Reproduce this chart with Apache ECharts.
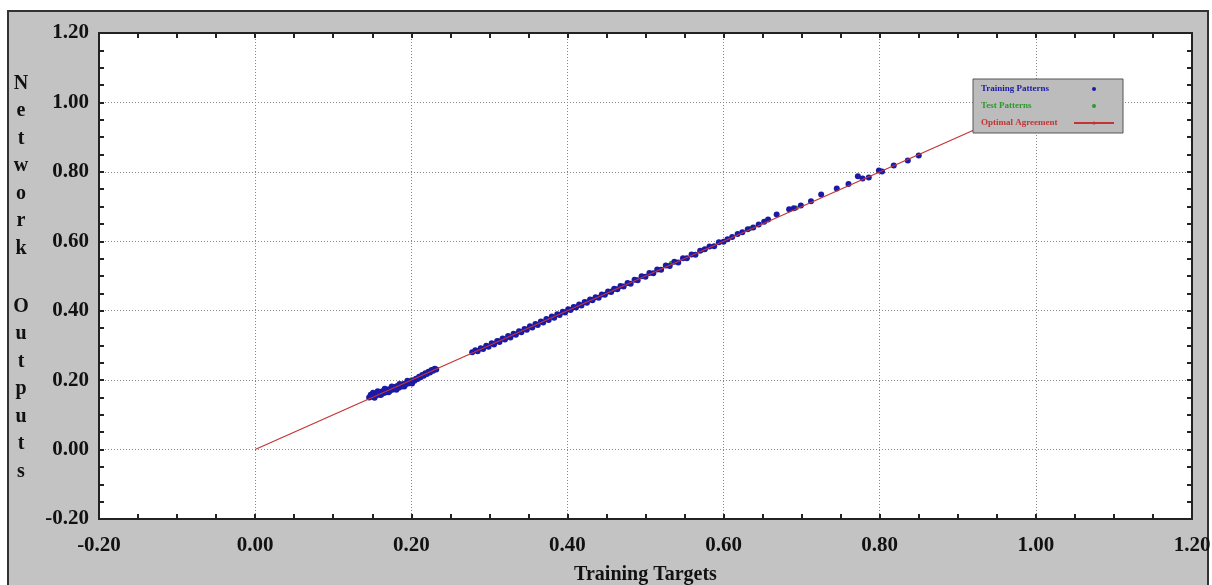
<!DOCTYPE html>
<html>
<head>
<meta charset="utf-8">
<title>Training Targets vs Network Outputs</title>
<script src="https://cdn.jsdelivr.net/npm/echarts@6/dist/echarts.min.js"></script>
<style>
    html, body { margin: 0; padding: 0; background: #fff; }
    #main { width: 1212px; height: 585px; }
</style>
</head>
<body>
<div id="main"></div>
<script>
// tick values (both axes)
var axisMin = -0.2;
var axisMax = 1.2;
var axisStep = 0.2;

// [training target, network output]
var trainPoints = [
    [0.146, 0.150], [0.148, 0.158], [0.150, 0.152], [0.152, 0.160], [0.154, 0.155], [0.156, 0.163],
    [0.158, 0.158], [0.160, 0.166], [0.162, 0.160], [0.163, 0.168], [0.165, 0.163], [0.167, 0.170],
    [0.168, 0.165], [0.170, 0.173], [0.172, 0.168], [0.174, 0.176], [0.176, 0.172], [0.178, 0.180],
    [0.180, 0.175], [0.182, 0.183], [0.184, 0.178], [0.186, 0.186], [0.188, 0.182], [0.190, 0.189],
    [0.192, 0.186], [0.194, 0.192], [0.196, 0.190], [0.198, 0.195], [0.200, 0.193], [0.202, 0.199],
    [0.204, 0.198], [0.206, 0.204], [0.208, 0.203], [0.210, 0.210], [0.212, 0.208], [0.214, 0.215],
    [0.216, 0.213], [0.218, 0.220], [0.220, 0.218], [0.222, 0.224], [0.224, 0.222], [0.226, 0.229],
    [0.228, 0.227], [0.230, 0.233], [0.232, 0.231],
    [0.151, 0.164], [0.157, 0.168], [0.166, 0.175], [0.175, 0.182], [0.185, 0.189], [0.195, 0.198],
    [0.153, 0.149], [0.161, 0.157], [0.171, 0.165], [0.181, 0.172], [0.191, 0.182], [0.201, 0.190],
    [0.278, 0.280], [0.282, 0.286], [0.285, 0.283], [0.289, 0.292], [0.292, 0.290], [0.296, 0.299],
    [0.299, 0.296], [0.303, 0.306], [0.306, 0.303], [0.310, 0.313], [0.313, 0.310], [0.317, 0.320],
    [0.320, 0.317], [0.324, 0.327], [0.327, 0.323], [0.331, 0.334], [0.334, 0.331], [0.338, 0.341],
    [0.341, 0.338], [0.345, 0.347], [0.348, 0.345], [0.352, 0.355], [0.355, 0.352], [0.359, 0.362],
    [0.362, 0.359], [0.366, 0.369], [0.369, 0.366], [0.373, 0.376], [0.376, 0.373], [0.380, 0.383],
    [0.383, 0.380], [0.387, 0.390], [0.390, 0.388], [0.394, 0.397], [0.397, 0.395], [0.401, 0.404],
    [0.404, 0.402], [0.408, 0.411], [0.411, 0.409], [0.415, 0.418], [0.418, 0.415], [0.422, 0.425],
    [0.425, 0.423], [0.429, 0.432], [0.432, 0.430], [0.436, 0.439], [0.440, 0.437], [0.444, 0.447],
    [0.448, 0.446], [0.452, 0.455], [0.456, 0.454], [0.460, 0.463], [0.464, 0.462], [0.468, 0.471],
    [0.472, 0.470], [0.477, 0.480], [0.481, 0.478], [0.486, 0.489], [0.490, 0.488], [0.495, 0.499],
    [0.500, 0.498], [0.505, 0.509], [0.510, 0.508], [0.515, 0.519], [0.520, 0.518], [0.526, 0.530],
    [0.531, 0.529], [0.537, 0.541], [0.542, 0.539], [0.548, 0.551], [0.553, 0.551], [0.559, 0.562],
    [0.564, 0.561], [0.570, 0.573], [0.576, 0.577], [0.582, 0.585], [0.588, 0.586], [0.594, 0.597],
    [0.600, 0.599], [0.605, 0.606], [0.611, 0.612], [0.618, 0.621], [0.624, 0.626], [0.631, 0.635],
    [0.638, 0.640], [0.645, 0.648], [0.652, 0.656], [0.657, 0.663], [0.668, 0.677], [0.684, 0.692],
    [0.690, 0.695], [0.699, 0.703], [0.712, 0.715], [0.725, 0.735], [0.745, 0.752], [0.760, 0.765],
    [0.772, 0.787], [0.778, 0.781], [0.786, 0.784], [0.799, 0.804], [0.803, 0.801], [0.818, 0.818],
    [0.836, 0.833], [0.850, 0.847]
];

var testPoints = [
    [0.200, 0.201], [0.312, 0.314], [0.423, 0.425], [0.458, 0.460], [0.533, 0.537],
    [0.572, 0.574], [0.634, 0.637], [0.693, 0.696]
];

var optimalLine = [[0, 0], [1, 1]];

var seriesNames = ['Training Patterns', 'Test Patterns', 'Optimal Agreement'];
var seriesColors = ['#1a1aa6', '#2c9a2c', '#c43434'];

var fontFamily = '"Liberation Serif", "Times New Roman", serif';

function mainAxis(extra) {
    var ax = {
        type: 'value',
        min: axisMin,
        max: axisMax,
        interval: axisStep,
        axisLine: {show: true, onZero: false, lineStyle: {color: '#222', width: 2}},
        axisTick: {show: true, inside: true, length: 5, lineStyle: {color: '#222', width: 2}},
        minorTick: {show: true, splitNumber: 4, length: 5, lineStyle: {color: '#222', width: 2}},
        axisLabel: {
            formatter: function (v) { return v.toFixed(2); },
            fontFamily: fontFamily,
            fontWeight: 'bold',
            fontSize: 21,
            color: '#111'
        },
        splitLine: {show: true, lineStyle: {color: '#888', width: 1, type: [1, 2]}}
    };
    for (var k in extra) ax[k] = extra[k];
    return ax;
}

function frameAxis(pos) {
    return {
        type: 'value',
        position: pos,
        min: axisMin,
        max: axisMax,
        interval: axisStep,
        axisLine: {show: true, onZero: false, lineStyle: {color: '#222', width: 2}},
        axisTick: {show: true, inside: true, length: 5, lineStyle: {color: '#222', width: 2}},
        minorTick: {show: true, splitNumber: 4, length: 5, lineStyle: {color: '#222', width: 2}},
        axisLabel: {show: false},
        splitLine: {show: false}
    };
}

// vertical stacked title letters
function stackedText(word, y) {
    return {
        type: 'text',
        x: 21,
        y: y,
        silent: true,
        style: {
            text: word.split('').join('\n'),
            font: 'bold 20px ' + fontFamily,
            fill: '#111',
            lineHeight: 27.5,
            align: 'center',
            verticalAlign: 'top'
        }
    };
}

var myChart = echarts.init(document.getElementById('main'));
var xMain = mainAxis({
    position: 'bottom',
    name: 'Training Targets',
    nameLocation: 'middle',
    nameGap: 46,
    nameTextStyle: {fontFamily: fontFamily, fontWeight: 'bold', fontSize: 20, color: '#111'}
});
xMain.axisLabel.margin = 16;
var yMain = mainAxis({position: 'left'});
yMain.axisLabel.margin = 10;

var option = {
    animation: false,
    graphic: [
        {
            type: 'rect',
            z: -10,
            silent: true,
            shape: {x: 8, y: 11, width: 1200, height: 580},
            style: {fill: '#c3c3c3', stroke: '#333', lineWidth: 2}
        },
        stackedText('Network', 70),
        stackedText('Outputs', 293)
    ],
    grid: {
        left: 99,
        right: 20,
        top: 33,
        bottom: 66,
        show: true,
        backgroundColor: '#fff',
        borderWidth: 0,
        outerBoundsMode: 'none'
    },
    legend: {
        orient: 'vertical',
        left: 973,
        top: 79,
        align: 'right',
        itemWidth: 40,
        itemHeight: 4,
        itemGap: 5,
        padding: [4, 8, 4, 8],
        backgroundColor: '#bcbcbc',
        borderColor: '#555',
        borderWidth: 1,
        formatter: function (name) { return '{t|' + name + '}'; },
        textStyle: {
            fontFamily: fontFamily, fontWeight: 'bold', fontSize: 9, lineHeight: 12,
            rich: {t: {width: 88, align: 'left', fontFamily: fontFamily, fontWeight: 'bold', fontSize: 9}}
        },
        data: [
            {name: seriesNames[0], icon: 'circle', textStyle: {color: seriesColors[0]}},
            {name: seriesNames[1], icon: 'circle', textStyle: {color: seriesColors[1]}},
            {name: seriesNames[2], textStyle: {color: seriesColors[2]}}
        ]
    },
    xAxis: [xMain, frameAxis('top')],
    yAxis: [yMain, frameAxis('right')],
    series: [
        {
            name: seriesNames[2],
            type: 'line',
            data: optimalLine,
            symbol: 'none',
            lineStyle: {color: seriesColors[2], width: 1.2},
            itemStyle: {color: seriesColors[2]}
        },
        {
            name: seriesNames[1],
            type: 'scatter',
            data: testPoints,
            symbolSize: 5,
            itemStyle: {color: seriesColors[1], opacity: 1}
        },
        {
            name: seriesNames[0],
            type: 'scatter',
            data: trainPoints,
            symbolSize: 6,
            itemStyle: {color: seriesColors[0], opacity: 1}
        }
    ]
};
myChart.setOption(option);
</script>
</body>
</html>
